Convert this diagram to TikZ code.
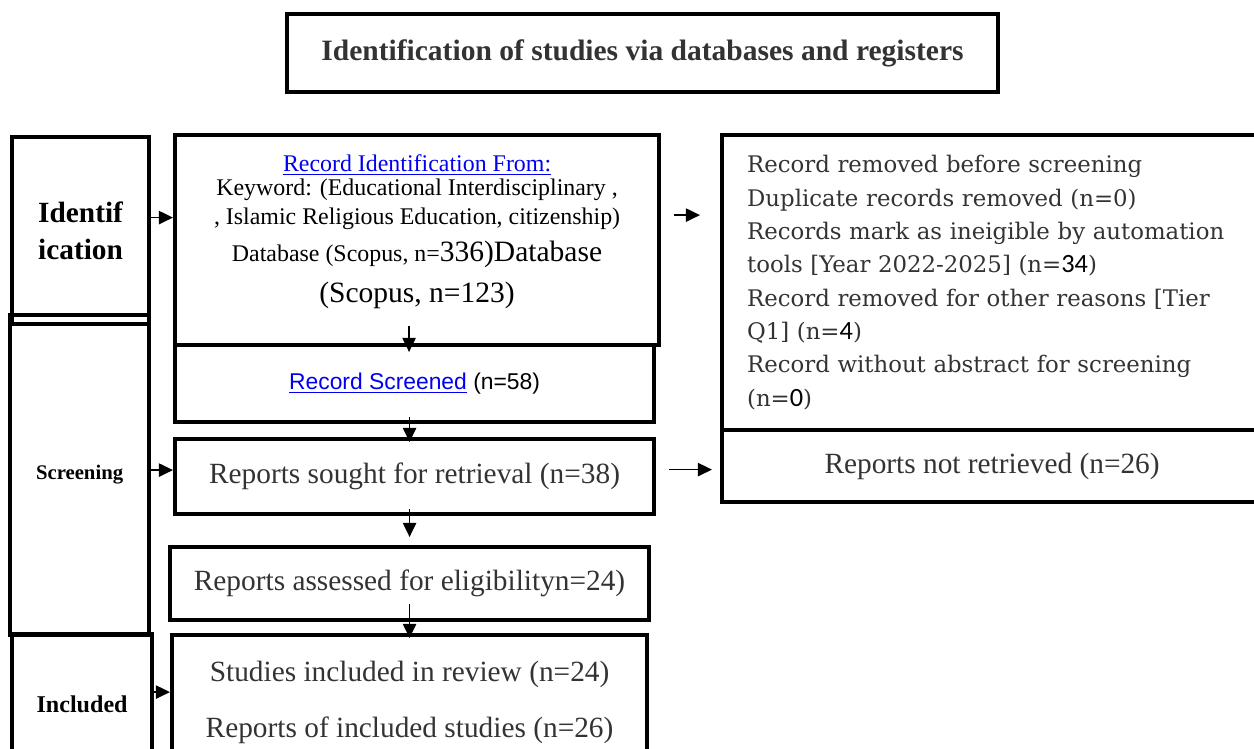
\documentclass[tikz,border=0pt]{standalone}
\usepackage{fontspec}
\setmainfont{Liberation Serif}
\newfontfamily\widefont{DejaVu Serif}
\newfontfamily\linkfont{Liberation Sans}
\newfontfamily\numfont{Carlito}
\usetikzlibrary{arrows.meta,calc}
\definecolor{linkblue}{RGB}{0,0,238}
\definecolor{txtgray}{RGB}{51,51,51}
\newcommand{\lnk}[1]{\textcolor{linkblue}{\underline{#1}}}
\newcommand{\bigpart}[1]{{\fontsize{16.8}{20}\selectfont #1}}
\tikzset{
  box/.style={draw, line width=2.4pt, inner sep=0pt, anchor=north west, align=center},
  stagebox/.style={box, font=\bfseries},
  flowtext/.style={text=txtgray, font=\fontsize{16.7}{20}\selectfont},
  arr/.style={-{Triangle[length=8pt,width=7.5pt]}, line width=1pt},
}

\begin{document}
\begin{tikzpicture}[x=0.02cm,y=-0.02cm]
  \clip (0,0) rectangle (1254,749);
  \node[box, minimum width=14.22cm, minimum height=1.56cm, text=txtgray,
    font=\bfseries\fontsize{16.8}{19}\selectfont] (title) at (285,12)
    {Identification of studies via databases and registers};

  \node[stagebox, minimum width=2.74cm, minimum height=3.74cm,
    font=\bfseries\fontsize{16.7}{21}\selectfont] (ident) at (10,135) {Identif\\ication};
  \node[stagebox, minimum width=2.78cm, minimum height=6.4cm,
    font=\bfseries\fontsize{11.8}{13}\selectfont] (screen) at (8,313) {Screening};
  \node[stagebox, minimum width=2.8cm, minimum height=2.8cm,
    font=\bfseries\fontsize{13.7}{15}\selectfont] (incl) at (10,632) {Included};

  \node[box, minimum width=9.68cm, minimum height=4.2cm,
    font=\fontsize{13.6}{15}\selectfont] (rec) at (173,133)
    {\lnk{Record Identification From:}\\[-1pt]
     Keyword: (Educational Interdisciplinary ,\\[1.5pt]
     , Islamic Religious Education, citizenship)\\[6pt]
     Database (Scopus, n=\bigpart{336)Database}\\[7pt]
     \bigpart{(Scopus, n=123)}\\[-0.06cm]\mbox{}};
  \node[box, minimum width=9.58cm, minimum height=1.54cm,
    font=\linkfont\fontsize{13}{15}\selectfont] (scr) at (173,343)
    {\lnk{Record Screened} (n=58)};
  \node[box, flowtext, minimum width=9.58cm, minimum height=1.5cm] (sought) at (173,437)
    {Reports sought for retrieval (n=38)};
  \node[box, flowtext, minimum width=9.58cm, minimum height=1.46cm] (elig) at (168,545)
    {Reports assessed for eligibilityn=24)};
  \node[box, flowtext, minimum width=9.5cm, minimum height=2.7cm,
    font=\fontsize{16.7}{32}\selectfont] (inc) at (170,633)
    {Studies included in review (n=24)\\Reports of included studies (n=26)};

  \node[box, text=txtgray, align=left, inner xsep=0.5cm, text width=9.8cm,
    minimum height=5.9cm, font=\widefont\fontsize{13}{19}\selectfont] (rem) at (720,133)
    {Record removed before screening\\
     Duplicate records removed (n=0)\\
     Records mark as ineigible by automation\\
     tools [Year 2022-2025] (n={\numfont\color{black}\fontsize{15}{19}\selectfont 34})\\
     Record removed for other reasons [Tier\\
     Q1] (n={\numfont\color{black}\fontsize{15}{19}\selectfont 4})\\
     Record without abstract for screening\\
     (n={\numfont\color{black}\fontsize{15}{19}\selectfont 0})};
  \node[box, flowtext, minimum width=10.8cm, minimum height=1.44cm] (notret) at (720,428)
    {Reports not retrieved (n=26)};

  \draw[arr] ($(ident.east)+(0,-13)$) -- ($(ident.east -| rec.west)+(0,-13)$);
  \draw[arr] ($(screen.east)+(0,-5)$) -- ($(screen.east -| sought.west)+(0,-5)$);
  \draw[arr] ($(incl.east)+(0,-12)$) -- ($(incl.east -| inc.west)+(0,-12)$);
  \draw[arr] ($(rec.south)+(-8,-21)$) -- ($(rec.south |- scr.north)+(-8,9)$);
  \draw[arr] ($(scr.south)+(-5,-7)$) -- ($(scr.south |- sought.north)+(-5,5)$);
  \draw[arr] ($(sought.south)+(-5,-7)$) -- ($(sought.south |- elig.north)+(-5,-8)$);
  \draw[arr] ($(elig.south)+(0,-18)$) -- ($(elig.south |- inc.north)+(0,5)$);
  \draw[arr] ($(rec.east)+(13,-25)$) -- ($(rec.east -| rem.west)+(-20,-25)$);
  \draw[arr] ($(sought.east)+(13,-7)$) -- ($(sought.east -| notret.west)+(-8,-7)$);
\end{tikzpicture}
\end{document}
